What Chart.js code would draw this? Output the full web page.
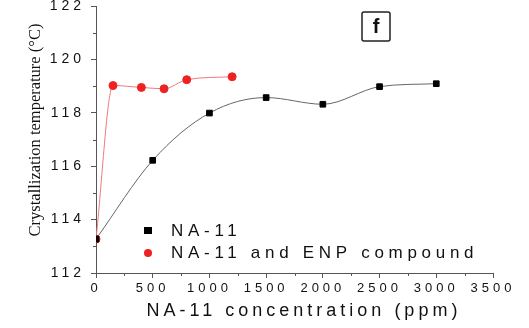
<!DOCTYPE html>
<html>
<head>
<meta charset="utf-8">
<script src="https://cdn.jsdelivr.net/npm/chart.js@4"></script>
<style>
  html, body { margin: 0; padding: 0; background: #fff; }
  #wrap { width: 529px; height: 328px; }
</style>
</head>
<body>
<div id="wrap"><canvas id="chart" width="529" height="328"></canvas></div>
<script>
// data
const na11X = [0, 500, 1000, 1500, 2000, 2500, 3000];
const na11Y = [113.27, 116.22, 117.99, 118.57, 118.32, 118.98, 119.09];
const enpX = [0, 150, 400, 600, 800, 1200];
const enpY = [113.27, 119.02, 118.95, 118.9, 119.24, 119.35];
const yTicks = [112, 114, 116, 118, 120, 122];
const xTicks = [0, 500, 1000, 1500, 2000, 2500, 3000, 3500];
const seriesNames = ['NA-11', 'NA-11 and ENP compound'];

function pts(xs, ys) {
  return xs.map((x, i) => ({ x: x, y: ys[i] }));
}

const spacedText = {
  id: 'spacedText',
  beforeDraw(chart) {
    chart.ctx.letterSpacing = '4px';
  },
  afterDraw(chart) {
    const ctx = chart.ctx;
    const area = chart.chartArea;
    const xs = chart.scales.x, ys = chart.scales.y;
    ctx.save();
    ctx.strokeStyle = '#555';
    ctx.lineWidth = 1;
    // minor ticks
    ctx.beginPath();
    for (let v = 113; v < 122; v += 2) {
      const py = Math.round(ys.getPixelForValue(v)) + 0.5;
      ctx.moveTo(area.left, py);
      ctx.lineTo(area.left - 3, py);
    }
    for (let v = 250; v < 3500; v += 500) {
      const px = Math.round(xs.getPixelForValue(v)) + 0.5;
      ctx.moveTo(px, area.bottom);
      ctx.lineTo(px, area.bottom + 3);
    }
    ctx.stroke();

    // x title
    ctx.fillStyle = '#111';
    ctx.letterSpacing = '4px';
    ctx.font = '18px Arial, "Liberation Sans", sans-serif';
    ctx.textAlign = 'center';
    ctx.textBaseline = 'alphabetic';
    ctx.fillText('NA-11 concentration (ppm)', 304, 316);

    // y title
    ctx.letterSpacing = '0px';
    ctx.save();
    ctx.translate(40, 130);
    ctx.rotate(-Math.PI / 2);
    ctx.font = '16.5px "Times New Roman", "Liberation Serif", serif';
    ctx.textAlign = 'center';
    ctx.fillText('Crystallization temperature (°C)', 0, 0);
    ctx.restore();

    // panel label
    ctx.lineWidth = 1.5;
    ctx.strokeStyle = '#222';
    ctx.beginPath();
    ctx.roundRect(362, 12, 28, 29, 2);
    ctx.stroke();
    ctx.font = 'bold 20px Arial, "Liberation Sans", sans-serif';
    ctx.textAlign = 'center';
    ctx.textBaseline = 'middle';
    ctx.fillStyle = '#111';
    ctx.fillText('f', 376, 27);

    // legend
    ctx.letterSpacing = '4.7px';
    ctx.font = '17px Arial, "Liberation Sans", sans-serif';
    ctx.textAlign = 'left';
    ctx.textBaseline = 'alphabetic';
    const rows = [230, 252];
    chart.data.datasets.forEach((ds, i) => {
      const cy = rows[i];
      ctx.fillStyle = ds.pointBackgroundColor;
      if (ds.pointStyle === 'rect') {
        ctx.fillRect(144, cy - 3, 8, 7);
      } else {
        ctx.beginPath();
        ctx.arc(148, cy + 1, 4, 0, Math.PI * 2);
        ctx.fill();
      }
      ctx.fillStyle = '#111';
      ctx.fillText(ds.label, 171, cy + 6);
    });
    ctx.restore();
  }
};

new Chart(document.getElementById('chart'), {
  type: 'scatter',
  data: {
    datasets: [
      {
        label: seriesNames[0],
        data: pts(na11X, na11Y),
        showLine: true,
        cubicInterpolationMode: 'monotone',
        borderColor: '#666',
        borderWidth: 1,
        pointStyle: 'rect',
        pointRadius: 4,
        pointBackgroundColor: '#000',
        pointBorderColor: '#000'
      },
      {
        label: seriesNames[1],
        data: pts(enpX, enpY),
        showLine: true,
        cubicInterpolationMode: 'monotone',
        borderColor: '#f07878',
        borderWidth: 1,
        pointStyle: 'circle',
        pointRadius: 4,
        pointBackgroundColor: '#ee2222',
        pointBorderColor: '#ee2222'
      }
    ]
  },
  options: {
    responsive: false,
    animation: false,
    layout: { padding: { top: 6, right: 36, left: 0, bottom: 0 } },
    plugins: { legend: { display: false }, tooltip: { enabled: false } },
    scales: {
      x: {
        type: 'linear',
        min: 0,
        max: 3500,
        afterBuildTicks: s => { s.ticks = xTicks.map(v => ({ value: v })); },
        afterFit: s => { s.height = 55; s.paddingLeft = 0; s.paddingRight = 0; },
        border: { color: '#555', width: 1 },
        grid: { drawOnChartArea: false, drawTicks: true, tickLength: 5, tickColor: '#555' },
        ticks: { color: '#111', font: { size: 13, family: 'Arial, "Liberation Sans", sans-serif' }, padding: 3, maxRotation: 0, callback: v => String(v) }
      },
      y: {
        min: 112,
        max: 122,
        afterBuildTicks: s => { s.ticks = yTicks.map(v => ({ value: v })); },
        afterFit: s => { s.width = 96; s.paddingTop = 0; s.paddingBottom = 0; },
        border: { color: '#555', width: 1 },
        grid: { drawOnChartArea: false, drawTicks: true, tickLength: 5, tickColor: '#555' },
        ticks: { color: '#111', font: { size: 14, family: 'Arial, "Liberation Sans", sans-serif' }, padding: 6, callback: v => String(v) }
      }
    }
  },
  plugins: [spacedText]
});
</script>
</body>
</html>
